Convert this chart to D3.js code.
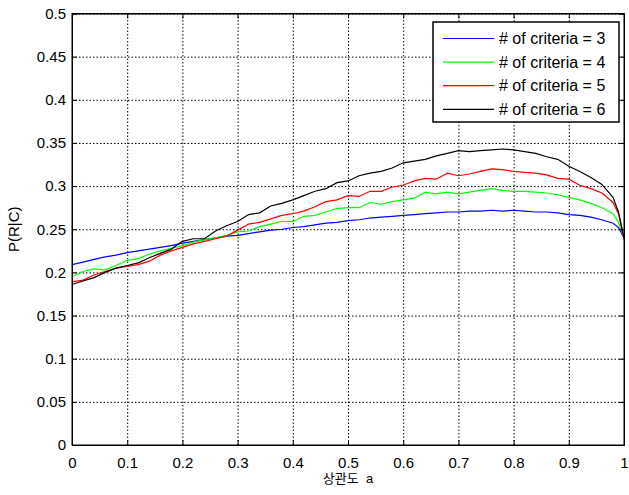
<!DOCTYPE html>
<html>
<head>
<meta charset="utf-8">
<title>P(R|C)</title>
<script src="https://cdn.jsdelivr.net/npm/d3@7/dist/d3.min.js"></script>
<style>
  body { margin: 0; background: #fff; }
  svg { display: block; }
  text { font-family: "Liberation Sans", Arial, "Noto Sans CJK KR", sans-serif; fill: #000; }
</style>
</head>
<body>
<svg id="chart"></svg>
<script>
// correlation values on the x axis
var alpha = [0, 0.02, 0.04, 0.06, 0.08, 0.10, 0.12, 0.14, 0.16, 0.18,
  0.20, 0.22, 0.24, 0.26, 0.28, 0.30, 0.32, 0.34, 0.36, 0.38,
  0.40, 0.42, 0.44, 0.46, 0.48, 0.50, 0.52, 0.54, 0.56, 0.58,
  0.60, 0.62, 0.64, 0.66, 0.68, 0.70, 0.72, 0.74, 0.76, 0.78,
  0.80, 0.82, 0.84, 0.86, 0.88, 0.90, 0.92, 0.94, 0.96, 0.98, 0.99, 1.00];

// P(R|C) for each number of criteria
var crit3 = [0.209, 0.212, 0.215, 0.218, 0.220, 0.223, 0.225, 0.227, 0.229, 0.231,
  0.234, 0.236, 0.238, 0.240, 0.242, 0.243, 0.245, 0.247, 0.249, 0.250,
  0.252, 0.253, 0.255, 0.257, 0.258, 0.260, 0.261, 0.263, 0.264, 0.265,
  0.266, 0.267, 0.268, 0.269, 0.270, 0.270, 0.271, 0.271, 0.272, 0.271,
  0.272, 0.271, 0.270, 0.270, 0.269, 0.267, 0.266, 0.264, 0.261, 0.257, 0.252, 0.240];
var crit4 = [0.195, 0.201, 0.204, 0.203, 0.208, 0.214, 0.216, 0.221, 0.225, 0.228,
  0.231, 0.235, 0.238, 0.240, 0.243, 0.247, 0.248, 0.253, 0.256, 0.259,
  0.259, 0.265, 0.266, 0.270, 0.274, 0.275, 0.275, 0.281, 0.279, 0.282,
  0.284, 0.286, 0.293, 0.291, 0.293, 0.291, 0.293, 0.295, 0.297, 0.295,
  0.294, 0.294, 0.293, 0.292, 0.290, 0.287, 0.284, 0.280, 0.275, 0.268, 0.258, 0.240];
var crit5 = [0.189, 0.191, 0.197, 0.201, 0.205, 0.207, 0.209, 0.213, 0.220, 0.225,
  0.229, 0.233, 0.236, 0.239, 0.242, 0.249, 0.256, 0.258, 0.262, 0.266,
  0.268, 0.271, 0.276, 0.282, 0.284, 0.289, 0.288, 0.294, 0.294, 0.299,
  0.301, 0.306, 0.309, 0.308, 0.315, 0.312, 0.314, 0.317, 0.320, 0.319,
  0.317, 0.316, 0.315, 0.313, 0.309, 0.308, 0.301, 0.297, 0.292, 0.281, 0.268, 0.238];
var crit6 = [0.186, 0.190, 0.194, 0.200, 0.205, 0.208, 0.211, 0.217, 0.222, 0.227,
  0.236, 0.239, 0.239, 0.248, 0.254, 0.259, 0.267, 0.269, 0.277, 0.280,
  0.284, 0.289, 0.294, 0.297, 0.304, 0.306, 0.312, 0.315, 0.317, 0.321,
  0.327, 0.329, 0.331, 0.335, 0.338, 0.341, 0.340, 0.341, 0.342, 0.343,
  0.342, 0.340, 0.338, 0.334, 0.331, 0.323, 0.317, 0.310, 0.302, 0.287, 0.270, 0.240];

var seriesNames = ["# of criteria = 3", "# of criteria = 4", "# of criteria = 5", "# of criteria = 6"];
var seriesColors = ["#0000ff", "#00ff00", "#ff0000", "#000000"];
var xTicks = [0, 0.1, 0.2, 0.3, 0.4, 0.5, 0.6, 0.7, 0.8, 0.9, 1];
var yTicks = [0, 0.05, 0.1, 0.15, 0.2, 0.25, 0.3, 0.35, 0.4, 0.45, 0.5];

var w = 629, h = 495;
var plotLeft = 72, plotRight = 624, plotTop = 13.5, plotBottom = 445;

var svg = d3.select("#chart").attr("width", w).attr("height", h);

var x = d3.scaleLinear().domain([0, 1]).range([plotLeft, plotRight]);
var y = d3.scaleLinear().domain([0, 0.5]).range([plotBottom, plotTop]);

function fmt(d) { return String(+d.toFixed(2)); }

// dotted grid
svg.append("g")
  .attr("transform", "translate(0," + plotBottom + ")")
  .call(d3.axisBottom(x).tickValues(xTicks).tickSize(-(plotBottom - plotTop)).tickFormat(""))
  .call(function(g) {
    g.select(".domain").remove();
    g.selectAll("line").attr("stroke", "#000").attr("stroke-dasharray", "1.5,2");
  });
svg.append("g")
  .attr("transform", "translate(" + plotLeft + ",0)")
  .call(d3.axisLeft(y).tickValues(yTicks).tickSize(-(plotRight - plotLeft)).tickFormat(""))
  .call(function(g) {
    g.select(".domain").remove();
    g.selectAll("line").attr("stroke", "#000").attr("stroke-dasharray", "1.5,2");
  });

// curves
var line = d3.line()
  .x(function(d) { return x(d[0]); })
  .y(function(d) { return y(d[1]); });

[crit3, crit4, crit5, crit6].forEach(function(vals, i) {
  svg.append("path")
    .datum(alpha.map(function(a, k) { return [a, vals[k]]; }))
    .attr("fill", "none")
    .attr("stroke", seriesColors[i])
    .attr("stroke-width", 1.2)
    .attr("d", line);
});

// axes with inward ticks (labels on bottom and left)
svg.append("g")
  .attr("transform", "translate(0," + plotBottom + ")")
  .call(d3.axisBottom(x).tickValues(xTicks).tickSize(-5).tickPadding(12).tickFormat(fmt));
svg.append("g")
  .attr("transform", "translate(" + plotLeft + ",0)")
  .call(d3.axisLeft(y).tickValues(yTicks).tickSize(-5).tickPadding(6).tickFormat(fmt));
svg.append("g")
  .attr("transform", "translate(0," + plotTop + ")")
  .call(d3.axisTop(x).tickValues(xTicks).tickSize(-5).tickFormat(""));
svg.append("g")
  .attr("transform", "translate(" + plotRight + ",0)")
  .call(d3.axisRight(y).tickValues(yTicks).tickSize(-5).tickFormat(""));

svg.selectAll(".tick text").attr("font-size", 15).attr("font-family", null);
svg.selectAll(".domain").attr("stroke", "#000").attr("stroke-width", 1);

// frame
svg.append("rect")
  .attr("x", plotLeft).attr("y", plotTop)
  .attr("width", plotRight - plotLeft).attr("height", plotBottom - plotTop)
  .attr("fill", "none").attr("stroke", "#000").attr("stroke-width", 1);

// axis labels
svg.append("text")
  .attr("transform", "translate(19," + (plotTop + plotBottom) / 2 + ") rotate(-90)")
  .attr("text-anchor", "middle")
  .attr("font-size", 15)
  .text("P(R|C)");
svg.append("text")
  .attr("x", (plotLeft + plotRight) / 2)
  .attr("y", 483)
  .attr("text-anchor", "middle")
  .attr("font-size", 13)
  .style("white-space", "pre")
  .text("상관도  a");

// legend
var lx = 433, ly = 22, lw = 186, lh = 100;
var legend = svg.append("g");
legend.append("rect")
  .attr("x", lx).attr("y", ly).attr("width", lw).attr("height", lh)
  .attr("fill", "#fff").attr("stroke", "#000").attr("stroke-width", 1.5);
seriesNames.forEach(function(name, i) {
  var yy = ly + 16.5 + i * 23.6;
  legend.append("line")
    .attr("x1", lx + 10).attr("x2", lx + 61)
    .attr("y1", yy).attr("y2", yy)
    .attr("stroke", seriesColors[i]).attr("stroke-width", 1.2);
  legend.append("text")
    .attr("x", lx + 66).attr("y", yy)
    .attr("dy", "0.36em")
    .attr("font-size", 16)
    .text(name);
});
</script>
</body>
</html>
